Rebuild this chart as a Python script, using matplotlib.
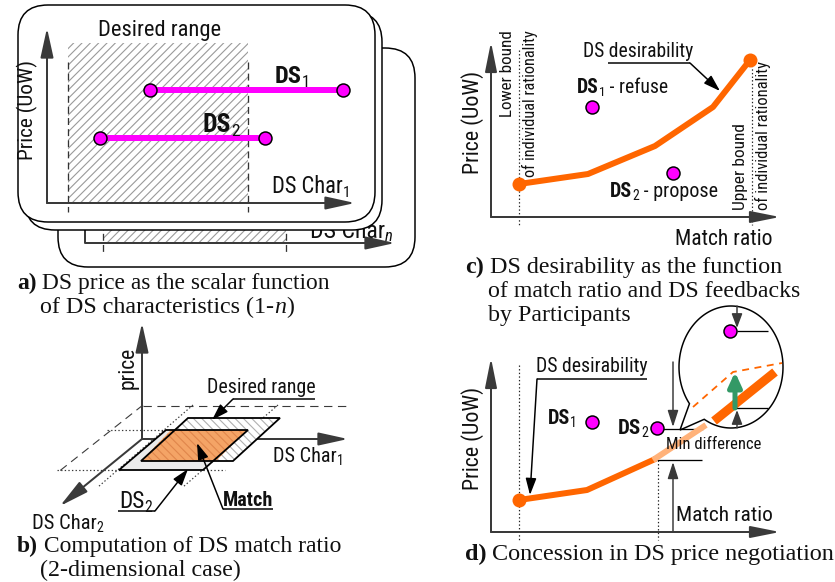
import numpy as np
import matplotlib.pyplot as plt
from matplotlib.patches import FancyBboxPatch, Rectangle, Polygon

plt.rcParams['hatch.linewidth'] = 0.8
plt.rcParams['lines.scale_dashes'] = False

SANS = ['Liberation Sans Narrow', 'Roboto Condensed', 'Liberation Sans', 'DejaVu Sans']
SERIF = ['Liberation Serif', 'DejaVu Serif']
AX = '#3a3a3a'
MAG = '#ff00ff'
ORA = '#ff6600'
PEACH = '#ffb27a'
GREEN = '#339966'

# ---- panel a: price vs DS characteristic (pixel units of the sheet)
desired_a = [68, 248]
desired_n = [103, 286]
ds1_char = [150, 343]
ds1_price = [90, 90]
ds2_char = [100, 265]
ds2_price = [138, 138]

# ---- panel b: 2-d match (oblique sketch)
desired_b_x = [188, 280, 233, 141]
desired_b_y = [418, 418, 461, 461]
ds2_b_x = [166, 248, 203, 119]
ds2_b_y = [430, 430, 470, 470]
match_b_x = [171, 247, 216, 141]
match_b_y = [430, 430, 461, 461]

# ---- panel c: desirability curve
match_c = [519, 588, 655, 713, 750]
price_c = [184, 174, 146, 107, 60]
ds1_c = (592, 107)
ds2_c = (673, 173)

# ---- panel d: concession
match_d = [519, 587, 653]
price_d = [500, 490, 460]
concede_x = [653, 706]
concede_y = [460, 425]
zoom_x = [714, 775]
zoom_y = [421, 372]
zoom_dash_x = [693, 733, 782]
zoom_dash_y = [407, 372, 363]
ds1_d = (592, 422)
ds2_d = (657, 428)
ds_zoom = (730, 331)

fig = plt.figure(figsize=(8.35, 5.82), dpi=100)
ax = fig.add_axes([0, 0, 1, 1])
ax.set_xlim(0, 835)
ax.set_ylim(582, 0)
ax.axis('off')
R = fig.canvas.get_renderer()


def px(v):
    return v * 0.72


def line(xs, ys, c=AX, w=1.4, z=5, **kw):
    ax.plot(xs, ys, color=c, lw=px(w), zorder=z, solid_capstyle='butt', **kw)


def arrow(x0, y0, x1, y1, c=AX, w=1.6, hl=24, hw=10, z=6):
    st = '-|>,head_length=%.3f,head_width=%.3f' % (px(hl) / 10, px(hw) / 20)
    ax.annotate('', xy=(x1, y1), xytext=(x0, y0), zorder=z,
                arrowprops=dict(arrowstyle=st, mutation_scale=10, color=c,
                                lw=px(w), shrinkA=0, shrinkB=0))


def dot(x, y, fc=MAG, ec='black', d=13, z=9):
    ax.plot(x, y, 'o', ms=px(d), mfc=fc, mec=ec, mew=px(1.5) if ec != 'none' else 0, zorder=z)


def say(x, y, parts, w=None, size=13, fam=SANS, z=12):
    def draw(k):
        xs, objs = x, []
        for p in parts:
            o = p[1] if len(p) > 1 else {}
            t = ax.text(xs, y + o.get('dy', 0) * k, p[0], fontsize=size * o.get('rel', 1) * k,
                        family=fam, fontweight=o.get('weight', 'normal'),
                        fontstyle=o.get('style', 'normal'), va='baseline', ha='left',
                        color='#111111', zorder=z)
            objs.append(t)
            xs += t.get_window_extent(R).width
        return objs, xs - x
    objs, tw = draw(1)
    if w:
        for t in objs:
            t.remove()
        draw(w / tw)


def vtext(x, y, s, length, va='center', fam=SANS, z=12):
    t = ax.text(x, y, s, fontsize=10, family=fam, color='#111111', zorder=z)
    L = t.get_window_extent(R).width
    t.set_fontsize(10 * length / L)
    t.set_rotation(90)
    t.set_ha('center')
    t.set_va(va)


def card(x, y, w, h, z):
    ax.add_patch(FancyBboxPatch((x, y), w, h, boxstyle='round,pad=0,rounding_size=30',
                                fc='white', ec='black', lw=px(1.5), zorder=z))


B = {'weight': 'bold'}
I = {'style': 'italic'}
SUB = {'rel': 0.68, 'dy': 3}

# ================= panel a =================
card(58, 48, 357, 219, 1)
ax.add_patch(Rectangle((desired_n[0], 200), desired_n[1] - desired_n[0], 43, fc='white',
                       ec='#9a9a9a', hatch='////', lw=0, zorder=1.5))
line([85, 85], [200, 243], w=2, z=1.6)
arrow(85, 243, 395, 243, w=2, hl=25, hw=11, z=1.7)
for xv in desired_n:
    line([xv, xv], [200, 252], c='#333333', w=1.3, z=1.6, ls=(0, (5, 3)))
say(310, 238, [('DS Char',), ('n', {'style': 'italic', 'rel': 0.7, 'dy': 2})], w=82, z=1.8)

card(25, 12, 357, 218, 3)
card(18, 5, 357, 217, 4)
ax.add_patch(Rectangle((desired_a[0], 43), desired_a[1] - desired_a[0], 160, fc='white',
                       ec='#9a9a9a', hatch='////', lw=0, zorder=4.5))
for xv in desired_a:
    line([xv, xv], [62, 212], c='#333333', w=1.3, z=4.6, ls=(0, (5, 3)))
arrow(47, 203, 47, 28, w=2, hl=25, hw=11, z=4.7)
arrow(47, 203, 355, 203, w=2, hl=25, hw=11, z=4.7)
line(ds1_char, ds1_price, c=MAG, w=6, z=5)
line(ds2_char, ds2_price, c=MAG, w=6, z=5)
for xv in ds1_char:
    dot(xv, ds1_price[0])
for xv in ds2_char:
    dot(xv, ds2_price[0])
say(98, 36, [('Desired range',)], w=122)
say(275, 83, [('DS', B), ('1', SUB)], w=35)
say(203, 132, [('DS', B), ('2', SUB)], w=37)
say(272, 193, [('DS Char',), ('1', SUB)], w=78)
vtext(27, 110, 'Price (UoW)', 100)

say(17, 289, [('a)', B), (' DS price as the scalar function',)], w=313, fam=SERIF)
say(40, 313, [('of DS characteristics (1-',), ('n', I), (')',)], w=253, fam=SERIF)

# ================= panel b =================
line([143, 350], [406, 406], w=1.1, z=2, ls=(0, (6, 4)))
line([143, 57], [405, 473], w=1.1, z=2, ls=(0, (6, 4)))
line([107, 167], [430, 430], w=1.2, z=2, ls=(0, (1, 1.6)))
line([57, 120], [470, 470], w=1.2, z=2, ls=(0, (1, 1.6)))
line([203, 225], [470, 470], w=1.2, z=2, ls=(0, (1, 1.6)))
line([193, 98], [405, 487], w=1.2, z=2, ls=(0, (1, 1.6)))
line([278, 183], [405, 487], w=1.2, z=2, ls=(0, (1, 1.6)))
arrow(142, 439, 142, 323, w=2, hl=25, hw=11, z=2.5)
arrow(142, 439, 348, 439, w=2, hl=25, hw=11, z=2.5)
arrow(142, 439, 60, 506, w=2, hl=25, hw=11, z=2.5)

ax.add_patch(Polygon(np.c_[desired_b_x, desired_b_y], closed=True, fc='white',
                     ec='#b0b0b0', hatch='\\\\\\\\', lw=0, zorder=3))
ax.add_patch(Polygon(np.c_[ds2_b_x, ds2_b_y], closed=True, fc='#ebebeb', ec='none', zorder=3.2))
ax.add_patch(Polygon(np.c_[match_b_x, match_b_y], closed=True, fc='#f4a466',
                     ec='#e0864c', hatch='\\\\\\\\', lw=0, zorder=3.4))
ax.add_patch(Polygon(np.c_[desired_b_x, desired_b_y], closed=True, fc='none', ec='black',
                     lw=px(1.8), zorder=3.6))
ax.add_patch(Polygon(np.c_[ds2_b_x, ds2_b_y], closed=True, fc='none', ec='black',
                     lw=px(1.8), zorder=3.6))

line([233, 315], [399, 399], c='black', w=1.5, z=6)
arrow(233, 399, 212, 420, c='black', w=1.5, hl=14, hw=9, z=6)
line([118, 155], [511, 511], c='black', w=1.5, z=6)
arrow(155, 511, 188, 469, c='black', w=1.5, hl=14, hw=9, z=6)
line([223, 273], [509, 509], c='black', w=1.5, z=6)
arrow(223, 509, 197, 443, c='black', w=1.5, hl=14, hw=9, z=6)

vtext(128, 368, 'price', 42)
say(207, 393, [('Desired range',)], w=108)
say(273, 462, [('DS Char',), ('1', SUB)], w=70)
say(32, 529, [('DS Char',), ('2', SUB)], w=71)
say(119, 508, [('DS',), ('2', SUB)], w=33)
say(223, 506, [('Match', B)], w=50)

say(17, 552, [('b)', B), (' Computation of DS match ratio',)], w=323, fam=SERIF)
say(40, 576, [('(2-dimensional case)',)], w=200, fam=SERIF)

# ================= panel c =================
arrow(491, 217, 491, 42, w=2, hl=25, hw=10)
arrow(491, 217, 780, 217, w=2, hl=25, hw=10)
line([519, 519], [50, 225], c='#222222', w=1.2, ls=(0, (1, 1.6)))
line([752, 752], [58, 225], c='#222222', w=1.2, ls=(0, (1, 1.6)))
ax.plot(match_c, price_c, color=ORA, lw=px(6), zorder=7)
dot(match_c[0], price_c[0], fc=ORA, ec='none', d=14, z=7.5)
dot(match_c[-1], price_c[-1], fc=ORA, ec='none', d=14, z=7.5)
dot(*ds1_c)
dot(*ds2_c)
line([608, 690], [63, 63], c='black', w=1.5, z=6)
arrow(690, 63, 720, 91, c='black', w=1.5, hl=14, hw=9, z=6)

vtext(508, 30, 'Lower bound', 87, va='top')
vtext(530, 30, 'of individual rationality', 147, va='top')
vtext(740, 210, 'Upper bound', 87, va='bottom')
vtext(763, 210, 'of individual rationality', 148, va='bottom')
vtext(473, 122, 'Price (UoW)', 103)
say(583, 57, [('DS desirability',)], w=110)
say(577, 93, [('DS', B), ('1', SUB), (' - refuse',)], w=91)
say(610, 197, [('DS', B), ('2', SUB), (' - propose',)], w=108)
say(675, 245, [('Match ratio',)], w=97)

say(465, 273, [('c)', B), (' DS desirability as the function',)], w=315, fam=SERIF)
say(488, 297, [('of match ratio and DS feedbacks',)], w=312, fam=SERIF)
say(488, 321, [('by Participants',)], w=142, fam=SERIF)

# ================= panel d =================
arrow(491, 532, 491, 358, w=2, hl=25, hw=10)
arrow(491, 532, 780, 532, w=2, hl=25, hw=10)
line([519, 519], [365, 540], c='#222222', w=1.2, ls=(0, (1, 1.6)))
line([658, 658], [460, 540], c='#222222', w=1.2, ls=(0, (1, 1.6)))
ax.plot(match_d, price_d, color=ORA, lw=px(6), zorder=7)
ax.plot(concede_x, concede_y, color=PEACH, lw=px(6), zorder=7, solid_capstyle='butt')
dot(match_d[0], price_d[0], fc=ORA, ec='none', d=14, z=7.5)
dot(*ds1_d)
dot(*ds2_d)
line([537, 647], [379, 379], c='black', w=1.5, z=6)
arrow(537, 379, 530, 495, c='black', w=1.5, hl=14, hw=9, z=6)

arrow(673, 362, 673, 427, hl=14, hw=9, w=1.5)
line([657, 703], [429, 429], c='black', w=1.3)
arrow(673, 532, 673, 462, hl=14, hw=9, w=1.5)
line([657, 702], [460, 460], c='black', w=1.3)

# magnifier bubble
cx, cy, a, b = 731, 367, 52, 61
t = np.radians(np.linspace(143, 481, 200))
bx = np.r_[cx + a * np.cos(t), 680]
by = np.r_[cy + b * np.sin(t), 430]
ax.add_patch(Polygon(np.c_[bx, by], closed=True, fc='white', ec='black', lw=px(1.5), zorder=8))
ax.plot(zoom_dash_x, zoom_dash_y, color=ORA, lw=px(1.8), ls=(0, (5, 4)), zorder=8.5)
ax.plot(zoom_x, zoom_y, color=ORA, lw=px(9), zorder=8.6, solid_capstyle='butt')
arrow(735, 408, 735, 372, c=GREEN, w=5, hl=12, hw=11, z=8.8)
line([735, 768], [408, 408], c='black', w=1.3, z=8.7)
arrow(737, 428, 737, 410, hl=12, hw=9, w=1.5, z=8.7)
dot(*ds_zoom, z=9)
line([737, 768], [331, 331], c='black', w=1.3, z=8.7)
arrow(737, 306, 737, 328, hl=12, hw=9, w=1.5, z=8.7)

vtext(473, 438, 'Price (UoW)', 103)
say(536, 372, [('DS desirability',)], w=111)
say(548, 424, [('DS', B), ('1', SUB)], w=29)
say(618, 434, [('DS', B), ('2', SUB)], w=30)
say(666, 449, [('Min difference',)], w=95)
say(676, 521, [('Match ratio',)], w=96)

say(465, 560, [('d)', B), (' Concession in DS price negotiation',)], w=368, fam=SERIF)

fig.savefig('out.png', dpi=100)
